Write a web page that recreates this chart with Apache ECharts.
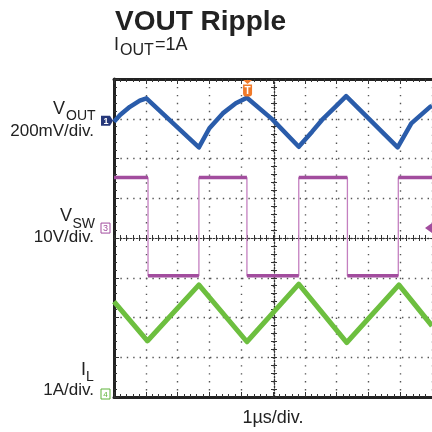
<!DOCTYPE html>
<html><head><meta charset="utf-8">
<script src="https://cdn.jsdelivr.net/npm/echarts@6/dist/echarts.min.js"></script>
<style>html,body{margin:0;padding:0;background:#fff}#c{width:432px;height:432px}</style>
</head><body><div id="c"></div>
<script>
// Horizontal: time in µs, 1 µs/div, 10 divisions
const timeMin = 0, timeMax = 10;
// Channel 1: VOUT ripple (mV, relative to the channel-1 marker), 200 mV/div
const voutT = [0, 0.19, 0.5, 0.81, 1.02, 2.67, 3.0, 3.42, 3.83, 4.18, 4.98, 5.81, 6.23, 6.54, 6.96, 7.30, 8.92, 9.35, 9.94, 10];
const voutV = [-5, 29, 70, 101, 113, -134, -38, 37, 88, 116, 7, -131, -55, 4, 70, 124, -134, -13, 70, 74];
// Channel 3: VSW switch node (V, relative to the channel-3 marker), 10 V/div
const vswT = [0, 1.07, 1.07, 2.67, 2.67, 4.18, 4.18, 5.81, 5.81, 7.34, 7.34, 8.94, 8.94, 10];
const vswV = [12.7, 12.7, -12.0, -12.0, 12.7, 12.7, -12.0, -12.0, 12.7, 12.7, -12.0, -12.0, 12.7, 12.7];
// Channel 4: inductor current IL (A), 1 A/div
const ilT = [0, 1.05, 2.67, 4.18, 5.81, 7.32, 8.96, 10];
const ilV = [2.40, 1.41, 2.82, 1.39, 2.84, 1.37, 2.82, 1.79];
// Labels
const titleText = 'VOUT Ripple';
const channelLabels = [
  {main: 'V', sub: 'OUT', scale: '200mV/div.'},
  {main: 'V', sub: 'SW', scale: '10V/div.'},
  {main: 'I', sub: 'L', scale: '1A/div.'}
];
const xName = '1µs/div.';

const zip = (a, b) => a.map((v, i) => [v, b[i]]);
// flat (level) parts of the switch node trace, drawn thicker
const vswFlat = [];
for (let i = 0; i < vswT.length - 1; i++) {
  if (vswV[i] === vswV[i + 1] && vswT[i] !== vswT[i + 1]) {
    vswFlat.push([vswT[i], vswV[i]], [vswT[i + 1], vswV[i + 1]], [vswT[i + 1], null]);
  }
}

const FONT = 'Liberation Sans, Arial, sans-serif';
const dark = '#222';
const gridDotX = [1.4, 6.55];
const gridDotY = [1.4, 5.0];

function borderX(pos, extra) {
  return Object.assign({
    type: 'value', min: timeMin, max: timeMax, interval: 1, position: pos,
    axisLine: {show: true, onZero: false, lineStyle: {color: dark, width: 3}},
    axisTick: {show: true, inside: true, length: 5, lineStyle: {color: '#333', width: 1}},
    minorTick: {show: true, splitNumber: 5, length: 3, lineStyle: {color: '#333', width: 1}},
    axisLabel: {show: false}, splitLine: {show: false}
  }, extra || {});
}
function centerX(inside) {
  return {
    type: 'value', min: timeMin, max: timeMax, interval: 1, position: 'bottom', offset: -159,
    axisLine: {show: true, onZero: false, lineStyle: {color: '#333', width: 1.2, type: [1.4, 1.8]}},
    axisTick: {show: true, inside: inside, length: 3, lineStyle: {color: '#333', width: 1}},
    minorTick: {show: true, splitNumber: 5, length: 3, lineStyle: {color: '#333', width: 1}},
    axisLabel: {show: false}, splitLine: {show: false}
  };
}
function centerY(inside) {
  return {
    type: 'value', min: -4, max: 4, interval: 1, position: 'left', offset: -160,
    axisLine: {show: true, onZero: false, lineStyle: {color: '#333', width: 1.2, type: [1.4, 1.8]}},
    axisTick: {show: true, inside: inside, length: 3, lineStyle: {color: '#333', width: 1}},
    minorTick: {show: true, splitNumber: 5, length: 3, lineStyle: {color: '#333', width: 1}},
    axisLabel: {show: false}, splitLine: {show: false}
  };
}
const hiddenY = (min, max) => ({type: 'value', min: min, max: max, show: false,
  axisLine: {onZero: false}, splitLine: {show: false}});

const chart = echarts.init(document.getElementById('c'), null, {renderer: 'canvas'});
const option = {
  animation: false,
  backgroundColor: '#fff',
  textStyle: {fontFamily: FONT},
  title: {
    text: titleText, left: 110, top: 3,
    textStyle: {fontFamily: FONT, fontSize: 28, fontWeight: 'bold', color: '#222'}
  },
  grid: {left: 114, top: 79, width: 320, height: 318, containLabel: false},
  xAxis: [
    borderX('bottom', {
      splitLine: {show: true, lineStyle: {color: '#555', width: 1.4, type: gridDotX}},
      name: xName, nameLocation: 'middle', nameGap: 12,
      nameTextStyle: {fontFamily: FONT, fontSize: 18, color: '#222'}
    }),
    borderX('top'),
    centerX(true),
    centerX(false)
  ],
  yAxis: [
    {
      type: 'value', min: -4, max: 4, interval: 1, position: 'left',
      axisLine: {show: true, onZero: false, lineStyle: {color: dark, width: 3}},
      axisTick: {show: true, inside: true, length: 5, lineStyle: {color: '#333', width: 1}},
      minorTick: {show: true, splitNumber: 5, length: 3, lineStyle: {color: '#333', width: 1}},
      axisLabel: {show: false},
      splitLine: {show: true, lineStyle: {color: '#555', width: 1.4, type: gridDotY}}
    },
    centerY(true),
    centerY(false),
    hiddenY(-1390, 210),   // VOUT, 200 mV/div
    hiddenY(-42.5, 37.5),  // VSW, 10 V/div
    hiddenY(0, 8)          // IL, 1 A/div
  ],
  series: [
    {
      name: 'IL', type: 'line', xAxisIndex: 0, yAxisIndex: 5, data: zip(ilT, ilV),
      symbol: 'none', lineStyle: {color: '#6dbf3f', width: 5, join: 'round'}, z: 3
    },
    {
      name: 'VSW', type: 'line', xAxisIndex: 0, yAxisIndex: 4, data: zip(vswT, vswV),
      symbol: 'none', lineStyle: {color: '#c47fc0', width: 1.3}, z: 3
    },
    {
      name: 'VSW level', type: 'line', xAxisIndex: 0, yAxisIndex: 4, data: vswFlat,
      symbol: 'none', connectNulls: false, lineStyle: {color: '#a24d9e', width: 3.5}, z: 4
    },
    {
      name: 'VOUT', type: 'line', xAxisIndex: 0, yAxisIndex: 3, data: zip(voutT, voutV),
      symbol: 'none', lineStyle: {color: '#2a5caa', width: 4.5, join: 'round'}, z: 5
    }
  ]
};
chart.setOption(option);

// channel labels and markers, positioned from the channel axes
const y1 = chart.convertToPixel({yAxisIndex: 3}, 0);
const y3 = chart.convertToPixel({yAxisIndex: 4}, 0);
const y4 = Math.min(chart.convertToPixel({yAxisIndex: 5}, 0), 394);
const xL = chart.convertToPixel({xAxisIndex: 0}, timeMin);
const xR = chart.convertToPixel({xAxisIndex: 0}, timeMax);
const xTrig = chart.convertToPixel({xAxisIndex: 0}, 4.2);
const yTop = chart.convertToPixel({yAxisIndex: 0}, 4);

const elems = [];
// VOUT label
elems.push({type: 'text', x: 65, y: 118.5, style: {text: channelLabels[0].main, font: '18px ' + FONT, fill: '#222', align: 'right', verticalAlign: 'bottom'}});
elems.push({type: 'text', x: 66, y: 123.5, style: {text: channelLabels[0].sub, font: '14px ' + FONT, fill: '#222', align: 'left', verticalAlign: 'bottom'}});
elems.push({type: 'text', x: 94, y: 140, style: {text: channelLabels[0].scale, font: '17px ' + FONT, fill: '#222', align: 'right', verticalAlign: 'bottom'}});
// VSW label
elems.push({type: 'text', x: 72, y: 225.5, style: {text: channelLabels[1].main, font: '18px ' + FONT, fill: '#222', align: 'right', verticalAlign: 'bottom'}});
elems.push({type: 'text', x: 72.5, y: 231, style: {text: channelLabels[1].sub, font: '14px ' + FONT, fill: '#222', align: 'left', verticalAlign: 'bottom'}});
elems.push({type: 'text', x: 94, y: 246, style: {text: channelLabels[1].scale, font: '17px ' + FONT, fill: '#222', align: 'right', verticalAlign: 'bottom'}});
// IL label
elems.push({type: 'text', x: 86, y: 379, style: {text: channelLabels[2].main, font: '18px ' + FONT, fill: '#222', align: 'right', verticalAlign: 'bottom'}});
elems.push({type: 'text', x: 86, y: 384, style: {text: channelLabels[2].sub, font: '14px ' + FONT, fill: '#222', align: 'left', verticalAlign: 'bottom'}});
elems.push({type: 'text', x: 94, y: 399, style: {text: channelLabels[2].scale, font: '17px ' + FONT, fill: '#222', align: 'right', verticalAlign: 'bottom'}});
// subtitle I_OUT=1A
elems.push({type: 'text', x: 114, y: 54, style: {text: 'I', font: '18px ' + FONT, fill: '#222', verticalAlign: 'bottom'}});
elems.push({type: 'text', x: 120, y: 59, style: {text: 'OUT', font: '16px ' + FONT, fill: '#222', verticalAlign: 'bottom'}});
elems.push({type: 'text', x: 155, y: 54, style: {text: '=1A', font: '18px ' + FONT, fill: '#222', verticalAlign: 'bottom'}});

// channel 1 marker (filled)
elems.push({type: 'polygon', shape: {points: [[xL - 13, y1 - 5], [xL - 4, y1 - 5], [xL - 1, y1], [xL - 4, y1 + 5], [xL - 13, y1 + 5]]},
  style: {fill: '#26387a'}, z: 10});
elems.push({type: 'text', x: xL - 8, y: y1 + 0.5, style: {text: '1', font: 'bold 9px ' + FONT, fill: '#fff', align: 'center', verticalAlign: 'middle'}, z: 11});
// channel 3 marker (outline)
elems.push({type: 'rect', shape: {x: xL - 13, y: y3 - 5, width: 9, height: 10}, style: {fill: '#fff', stroke: '#a24d9e', lineWidth: 1}, z: 10});
elems.push({type: 'text', x: xL - 8.5, y: y3 + 0.5, style: {text: '3', font: '9px ' + FONT, fill: '#a24d9e', align: 'center', verticalAlign: 'middle'}, z: 11});
// channel 3 level marker on the right edge
elems.push({type: 'polygon', shape: {points: [[xR, y3 - 5], [xR - 7, y3], [xR, y3 + 5]]}, style: {fill: '#a24d9e'}, z: 10});
// channel 4 marker (outline)
elems.push({type: 'rect', shape: {x: xL - 13, y: y4 - 5, width: 9, height: 10}, style: {fill: '#fff', stroke: '#5fb33a', lineWidth: 1}, z: 10});
elems.push({type: 'text', x: xL - 8.5, y: y4 + 0.5, style: {text: '4', font: '8px ' + FONT, fill: '#5fb33a', align: 'center', verticalAlign: 'middle'}, z: 11});
// trigger marker
elems.push({type: 'polygon', shape: {points: [[xTrig - 4.5, yTop + 1], [xTrig + 4.5, yTop + 1], [xTrig, yTop + 5]]}, style: {fill: '#f07a2a'}, z: 10});
elems.push({type: 'rect', shape: {x: xTrig - 4.5, y: yTop + 5.5, width: 9, height: 12, r: [0, 0, 3, 3]}, style: {fill: '#f07a2a'}, z: 10});
elems.push({type: 'text', x: xTrig, y: yTop + 12, style: {text: 'T', font: 'bold 10px ' + FONT, fill: '#fff', align: 'center', verticalAlign: 'middle'}, z: 11});

chart.setOption({graphic: {elements: elems}});
</script>
</body></html>
